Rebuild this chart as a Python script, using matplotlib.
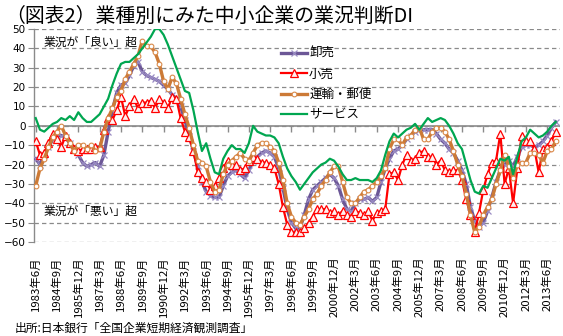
import matplotlib
matplotlib.use("Agg")
import matplotlib.pyplot as plt

plt.rcParams['font.family'] = ['Noto Sans CJK JP', 'DejaVu Sans']

# ---- data (quarterly, 1983年6月 .. 2013年12月) ----
start_year, start_month = 1983, 6
n_points = 123

wholesale = [-17, -20, -15, -11, -7, -5, -5, -6, -9, -12, -15, -19, -21, -20, -19, -21, -15, -3, 8, 17,
             21, 22, 26, 31, 33, 28, 26, 25, 24, 23, 21, 19, 16, 14, 10, 3, -5, -13, -21, -29,
             -34, -36, -37, -37, -31, -26, -24, -23, -25, -27, -23, -18, -16, -14, -13, -14, -16, -22, -32, -43,
             -50, -53, -53, -46, -38, -33, -31, -29, -27, -25, -27, -31, -38, -43, -44, -40, -38, -38, -37, -39,
             -37, -29, -22, -17, -13, -12, -10, -7, -5, -3, -2, -2, -2, -2, -4, -7, -9, -12, -14, -18,
             -23, -30, -42, -49, -52, -50, -44, -37, -29, -23, -20, -18, -21, -16, -11, -10, -10, -11, -10, -8,
             -5, -1, 2]

retail = [-8, -15, -14, -9, -4, -7, -11, -5, -9, -12, -13, -12, -12, -12, -11, -11, -2, 4, 3, 8,
          15, 5, 10, 14, 9, 12, 12, 13, 9, 14, 12, 9, 15, 14, 4, -3, -6, -13, -24, -27,
          -29, -33, -31, -27, -22, -18, -20, -20, -23, -22, -18, -16, -17, -19, -19, -20, -22, -30, -42, -51,
          -55, -55, -55, -53, -50, -47, -43, -43, -43, -45, -44, -46, -44, -46, -47, -44, -45, -46, -44, -49,
          -45, -44, -43, -25, -24, -28, -20, -15, -18, -17, -14, -13, -16, -16, -20, -18, -23, -24, -23, -23,
          -28, -38, -46, -55, -45, -33, -25, -19, -18, -4, -30, -22, -40, -22, -5, -8, -8, -12, -24, -12,
          -11, -8, -3]

transport = [-31, -22, -17, -11, -6, -3, 0, -5, -9, -13, -10, -10, -12, -10, -13, -12, -3, 4, 9, 15,
             18, 24, 28, 32, 36, 44, 41, 41, 38, 32, 23, 19, 25, 22, 14, 6, -1, -10, -18, -19,
             -21, -29, -34, -33, -25, -20, -18, -16, -14, -17, -18, -14, -10, -9, -9, -11, -13, -19, -28, -40,
             -47, -50, -51, -47, -43, -38, -35, -31, -28, -24, -21, -21, -29, -37, -40, -40, -37, -34, -33, -31,
             -29, -26, -22, -12, -7, -7, -10, -6, -5, -2, -1, -7, -7, -3, -1, -1, -3, -7, -13, -20,
             -26, -35, -46, -55, -52, -46, -42, -38, -30, -23, -15, -21, -27, -20, -19, -19, -14, -14, -15, -19,
             -13, -12, -8]

services = [4, -2, -3, -1, 1, 2, 4, 3, 5, 3, 7, 4, 2, 2, 4, 6, 10, 14, 21, 27,
            32, 33, 33, 35, 37, 40, 43, 46, 50, 50, 47, 42, 36, 30, 24, 18, 17, 8, -3, -13,
            -9, -17, -24, -25, -17, -13, -10, -12, -12, -14, -9, 0, -3, -4, -5, -5, -6, -9, -16, -22,
            -26, -29, -33, -30, -27, -24, -22, -20, -19, -17, -18, -21, -25, -28, -28, -27, -28, -28, -28, -29,
            -27, -23, -15, -8, -4, -6, -4, -2, -1, 1, -2, 1, 4, 2, 3, 4, 3, 0, -4, -9,
            -12, -20, -28, -34, -35, -31, -32, -27, -22, -17, -18, -16, -25, -16, -8, -6, -2, -4, -6, -5,
            -3, 0, 2]

series_names = ['卸売', '小売', '運輸・郵便', 'サービス']

quarters = []
y, m = start_year, start_month
for _ in range(n_points):
    quarters.append(f'{y}年{m}月')
    m += 3
    if m > 12:
        m -= 12
        y += 1
x = list(range(n_points))
tick_pos = x[::5]
tick_labels = quarters[::5]

title = '（図表2）業種別にみた中小企業の業況判断DI'
note_good = '業況が「良い」超'
note_bad = '業況が「悪い」超'
source = '出所:日本銀行「全国企業短期経済観測調査」'

# ---- figure ----
W, H = 563, 336
fig = plt.figure(figsize=(W / 100, H / 100), dpi=100)
ax = fig.add_axes([34 / W, 1 - 242 / H, (560 - 34) / W, (242 - 29) / H])

grid_c = '#8a8a8a'
ax.set_ylim(-60, 50)
ax.set_xlim(-0.4, 123.0)
ax.set_yticks(range(-60, 51, 10))
ax.yaxis.grid(True, color=grid_c, linestyle=(0, (3.5, 2.5)), linewidth=0.9)
ax.set_axisbelow(True)
for s in ['top', 'right', 'bottom']:
    ax.spines[s].set_visible(False)
ax.spines['left'].set_color(grid_c)
ax.spines['left'].set_linewidth(1.0)
ax.tick_params(axis='y', direction='out', length=4, color=grid_c, labelsize=7.5, pad=2)
for lab in ax.get_yticklabels():
    lab.set_family('DejaVu Sans')

ax.set_xticks(tick_pos)
ax.set_xticklabels(tick_labels, rotation=90, fontsize=8.2)
ax.tick_params(axis='x', length=0, pad=10.5)

# zero line with hanging tick marks
ax.axhline(0, color=grid_c, linewidth=1.2, zorder=1.5)
ax.plot(tick_pos, [0] * len(tick_pos), linestyle='none', marker=3, markersize=4,
        markeredgewidth=1.0, color=grid_c, zorder=1.5)

ax.plot(x, wholesale, color='#6C5796', linewidth=2.4, marker='x', markersize=4.5,
        markeredgecolor='#9A8CC4', markeredgewidth=0.9, label=series_names[0], zorder=3)
ax.plot(x, retail, color='#FF0000', linewidth=1.6, marker='^', markersize=5.5,
        markerfacecolor='#FFF0F0', markeredgecolor='#FF0000', markeredgewidth=0.9,
        label=series_names[1], zorder=4)
ax.plot(x, transport, color='#CC7A36', linewidth=2.4, marker='o', markersize=3.4,
        markerfacecolor='white', markeredgecolor='#D98A4A', markeredgewidth=0.8,
        label=series_names[2], zorder=5)
ax.plot(x, services, color='#00A650', linewidth=1.6, label=series_names[3], zorder=6)

leg = ax.legend(loc='upper left', bbox_to_anchor=(281 / W, 1 - 47 / H),
                bbox_transform=fig.transFigure, frameon=False, fontsize=9,
                handlelength=2.1, handletextpad=0.15, labelspacing=0.6,
                borderpad=0, borderaxespad=0, numpoints=1)

fig.text(5 / W, 1 - 16 / H, title, fontsize=14.3, ha='left', va='center')
fig.text(44 / W, 1 - 42 / H, note_good, fontsize=8.5, ha='left', va='center')
fig.text(44 / W, 1 - 211 / H, note_bad, fontsize=8.5, ha='left', va='center')
fig.text(15 / W, 1 - 328 / H, source, fontsize=8.5, ha='left', va='center')

fig.savefig('out.png', dpi=100, facecolor='white')
